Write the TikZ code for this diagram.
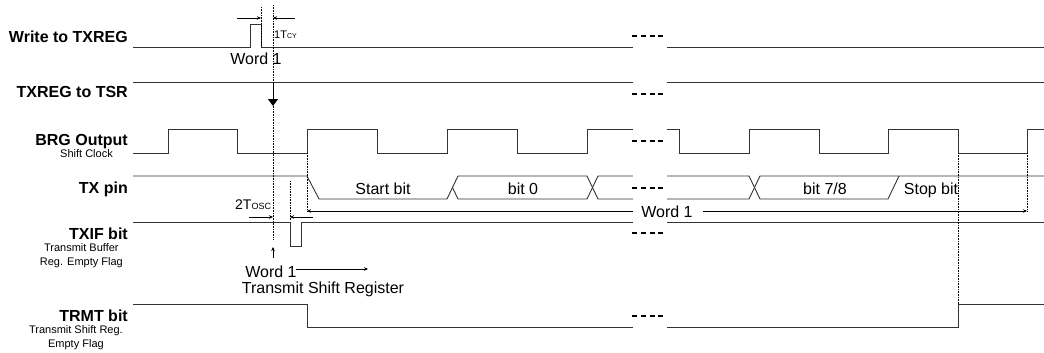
\documentclass[tikz,border=0pt]{standalone}
\usepackage{fontspec}
\setmainfont{Liberation Sans}
\usetikzlibrary{arrows.meta}

\tikzset{
  wave/.style={line width=0.9pt,black!80,line join=miter},
  guide/.style={densely dotted,line width=0.6pt},
  gapdash/.style={line width=2.2pt,dash pattern=on 5pt off 3.8pt},
  siglabel/.style={font=\fontsize{16}{18}\selectfont\bfseries,anchor=base east,inner sep=0pt},
  sublabel/.style={font=\fontsize{11}{14}\selectfont,align=center,anchor=base east,inner sep=0pt},
  bitlabel/.style={font=\fontsize{16}{18}\selectfont,anchor=base,inner sep=0pt},
  meas/.style={-{Stealth[length=4pt,width=3.5pt]},line width=0.6pt}
}

\begin{document}
\begin{tikzpicture}[x=1pt,y=-1pt]
\useasboundingbox (0,0) rectangle (1044,353);

% signal names
\node[siglabel] (lwrite) at (128,43) {Write to TXREG};
\node[siglabel] (ltsr) at (128,97) {TXREG to TSR};
\node[siglabel] (lbrg) at (128,145) {BRG Output};
\node[sublabel] (lbrgsub) at (113,157) {Shift Clock};
\node[siglabel] (ltx) at (128,193) {TX pin};
\node[siglabel] (ltxif) at (128,239) {TXIF bit};
\node[sublabel] (ltxifsub) at (123,265) {Transmit Buffer\\Reg. Empty Flag};
\node[siglabel] (ltrmt) at (128,321) {TRMT bit};
\node[sublabel] (ltrmtsub) at (123,347) {Transmit Shift Reg.\\Empty Flag};

% waveforms
\draw[wave] (133,47) -- (250,47) -- (250,24) -- (261,24) -- (261,47) -- (1044,47);
\draw[wave] (133,82) -- (1044,82);
\draw[wave] (133,153) -- (168,153) -- (168,129) -- (237,129) -- (237,153)
  -- (307,153) -- (307,129) -- (377,129) -- (377,153) -- (447,153) -- (447,129)
  -- (517,129) -- (517,153) -- (587,153) -- (587,129) -- (679,129) -- (679,153)
  -- (749,153) -- (749,129) -- (819,129) -- (819,153) -- (888,153) -- (888,129)
  -- (958,129) -- (958,153) -- (1027,153) -- (1027,129) -- (1044,129);
\draw[wave] (133,176) -- (307,176) -- (319,199) -- (447,199) -- (458,176) -- (587,176)
  -- (598,199) -- (749,199) -- (760,176) -- (1044,176);
\draw[wave] (452.5,187.5) -- (458,199) -- (587,199) -- (598,176) -- (749,176)
  -- (760,199) -- (888,199) -- (899,176);
\draw[wave] (133,222) -- (290,222) -- (290,246) -- (301,246) -- (301,222) -- (1044,222);
\draw[wave] (133,304) -- (307,304) -- (307,327) -- (958,327) -- (958,304) -- (1044,304);

% break in the time axis
\fill[white] (633,15) rectangle (667,340);
\foreach \y in {36,94,141,188,233,316}
  \draw[gapdash] (632,\y) -- (665,\y);

% bit names
\node[bitlabel] (bstart) at (383,194) {Start bit};
\node[bitlabel] (bzero) at (523,194) {bit 0};
\node[bitlabel] (bseven) at (825,194) {bit 7/8};
\node[bitlabel] (bstop) at (931,194) {Stop bit};

% timing guides
\draw[guide] (261,7) -- (261,47);
\draw[guide] (273,5) -- (273,240);
\draw[guide] (307,153) -- (307,211);
\draw[guide] (290,181) -- (290,220);
\draw[guide] (958,153) -- (958,304);
\draw[guide] (1027,153) -- (1027,211);

% 1 Tcy
\coordinate (cyl) at (237,18);
\coordinate (cyla) at (261,18);
\coordinate (cyr) at (295,18);
\coordinate (cyra) at (273,18);
\draw[meas] (cyl) -- (cyla);
\draw[meas] (cyr) -- (cyra);
\node[anchor=base west,inner sep=0pt] (tcy) at (274,39)
  {\fontsize{11}{13}\selectfont 1T{\fontsize{7}{8}\selectfont CY}};
\node[bitlabel] (wword) at (256,64) {Word 1};

% TXREG to TSR transfer
\coordinate (tsrtop) at (273,82);
\coordinate (tsrtip) at (273,106);
\draw[line width=0.9pt,-{Triangle[length=7pt,width=10pt]}] (tsrtop) -- (tsrtip);

% 2 Tosc
\node[anchor=base west,inner sep=0pt] (tosc) at (235,209)
  {\fontsize{14}{16}\selectfont 2T{\fontsize{9}{10}\selectfont OSC}};
\coordinate (oscl) at (249,217);
\coordinate (oscla) at (273,217);
\coordinate (oscr) at (313,217);
\coordinate (oscra) at (290,217);
\draw[meas] (oscl) -- (oscla);
\draw[meas] (oscr) -- (oscra);

% Word 1 on TX pin
\node[font=\fontsize{16}{18}\selectfont,fill=white,inner sep=0pt,anchor=base] (wtx) at (667,217) {Word 1};
\coordinate (wleft) at (633,211);
\coordinate (wstart) at (307,211);
\coordinate (wright) at (703,211);
\coordinate (wend) at (1027,211);
\draw[meas] (wleft) -- (wstart);
\draw[meas] (wright) -- (wend);

% TSR loaded
\node[bitlabel] (wtsr) at (271,277) {Word 1};
\node[bitlabel] (tsrname) at (323,293) {Transmit Shift Register};
\coordinate (upfoot) at (273,258);
\coordinate (uptip) at (273,247);
\draw[meas] (upfoot) -- (uptip);
\coordinate (tsrgo) at (296,269);
\coordinate (tsrend) at (368,269);
\draw[meas] (tsrgo) -- (tsrend);
\end{tikzpicture}
\end{document}
